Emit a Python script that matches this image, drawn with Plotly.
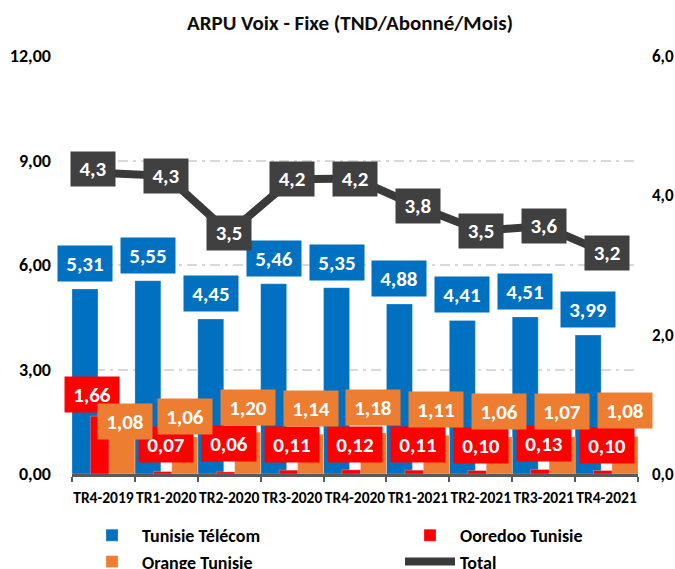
import plotly.graph_objects as go

# Data (TND / abonné / mois)
quarters = ["TR4-2019", "TR1-2020", "TR2-2020", "TR3-2020", "TR4-2020",
            "TR1-2021", "TR2-2021", "TR3-2021", "TR4-2021"]
tunisie_telecom = [5.31, 5.55, 4.45, 5.46, 5.35, 4.88, 4.41, 4.51, 3.99]
ooredoo = [1.66, 0.07, 0.06, 0.11, 0.12, 0.11, 0.10, 0.13, 0.10]
orange = [1.08, 1.06, 1.20, 1.14, 1.18, 1.11, 1.06, 1.07, 1.08]
total = [4.32, 4.28, 3.46, 4.23, 4.24, 3.84, 3.49, 3.56, 3.17]

FONT = "Carlito, Liberation Sans, Arial, sans-serif"
BAR_W = 0.413

# name, values, colour, bar offset, legend
series = [
    ("Tunisie Télécom", tunisie_telecom, "#0070C0", -0.5, "legend"),
    ("Ooredoo Tunisie", ooredoo, "#FF0000", -0.207, "legend2"),
    ("Orange Tunisie", orange, "#ED7D31", 0.087, "legend"),
]

# small manual nudges of data labels (px), as in the source chart
nudges = {
    ("Ooredoo Tunisie", 0): (-11, -4),
    ("Ooredoo Tunisie", 1): (0, 2),
    ("Ooredoo Tunisie", 2): (0, 3),
    ("Orange Tunisie", 0): (3, -11),
    ("Orange Tunisie", 1): (0, -5),
    ("Orange Tunisie", 2): (0, -1),
    ("Total", 0): (-10, 4),
}

fig = go.Figure()
annotations = []

for name, vals, color, off, leg in series:
    fig.add_trace(go.Bar(
        x=quarters, y=vals, name=name, legend=leg,
        marker=dict(color=color, line=dict(color="rgba(255,255,255,0.5)", width=0.5)),
        width=BAR_W, offset=off,
    ))
    for i, v in enumerate(vals):
        dx, dy = nudges.get((name, i), (0, 0))
        annotations.append(dict(
            x=i + off + BAR_W / 2, y=v, xref="x", yref="y",
            text=f"{v:.2f}".replace(".", ","), showarrow=False,
            yanchor="bottom", xshift=dx, yshift=7 + dy,
            bgcolor=color, width=46, height=27, borderpad=4,
            font=dict(family=FONT, size=21, color="white", weight="bold"),
        ))

fig.add_trace(go.Scatter(
    x=quarters, y=total, name="Total", yaxis="y2", mode="lines", legend="legend2",
    line=dict(color="#3a3a3a", width=8),
))
for i, v in enumerate(total):
    dx, dy = nudges.get(("Total", i), (0, 0))
    annotations.append(dict(
        x=i, y=v, xref="x", yref="y2",
        text=f"{v:.1f}".replace(".", ","), showarrow=False,
        yanchor="middle", xshift=dx, yshift=dy,
        bgcolor="#404040", width=36, height=26, borderpad=4,
        font=dict(family=FONT, size=21, color="white", weight="bold"),
    ))

legend_style = dict(
    orientation="v", xref="container", yref="container",
    y=1 - 517 / 569, xanchor="left", yanchor="top",
    itemwidth=50, traceorder="normal", bgcolor="rgba(0,0,0,0)",
    font=dict(family=FONT, size=18, color="black", weight="bold"),
)

fig.update_layout(
    width=675, height=569,
    margin=dict(l=72, r=37, t=56, b=95, autoexpand=False),
    paper_bgcolor="white", plot_bgcolor="white",
    separators=", ",
    barmode="overlay",
    title=dict(
        text="ARPU Voix - Fixe (TND/Abonné/Mois)",
        x=350 / 675, xanchor="center", y=1 - 23 / 569, yanchor="middle",
        font=dict(family=FONT, size=21, color="#0d0d0d", weight="bold"),
    ),
    xaxis=dict(
        type="category", range=[-0.5, 8.5],
        showline=True, linecolor="#595959", linewidth=3,
        ticks="outside", tickson="boundaries", ticklen=5, tickwidth=2,
        tickcolor="#595959", showgrid=False, ticklabelstandoff=7, tickangle=0,
        tickfont=dict(family=FONT, size=15.5, color="black", weight="bold"),
    ),
    yaxis=dict(
        range=[0, 12], dtick=3, tickformat=".2f",
        showgrid=True, gridcolor="#d9d9d9", gridwidth=2, griddash="10px,5px,3px,5px",
        zeroline=False, ticks="", ticklabelstandoff=20,
        tickfont=dict(family=FONT, size=18, color="black", weight="bold"),
    ),
    yaxis2=dict(
        overlaying="y", side="right", range=[0, 6], dtick=2, tickformat=".1f",
        showgrid=False, zeroline=False, ticks="", ticklabelstandoff=13,
        tickfont=dict(family=FONT, size=17, color="black", weight="bold"),
    ),
    legend=dict(legend_style, x=82 / 675),
    legend2=dict(legend_style, x=400 / 675),
    annotations=annotations,
)

fig.write_html("out.html", config={"displayModeBar": False},
               post_script="document.body.style.margin='0px';")
